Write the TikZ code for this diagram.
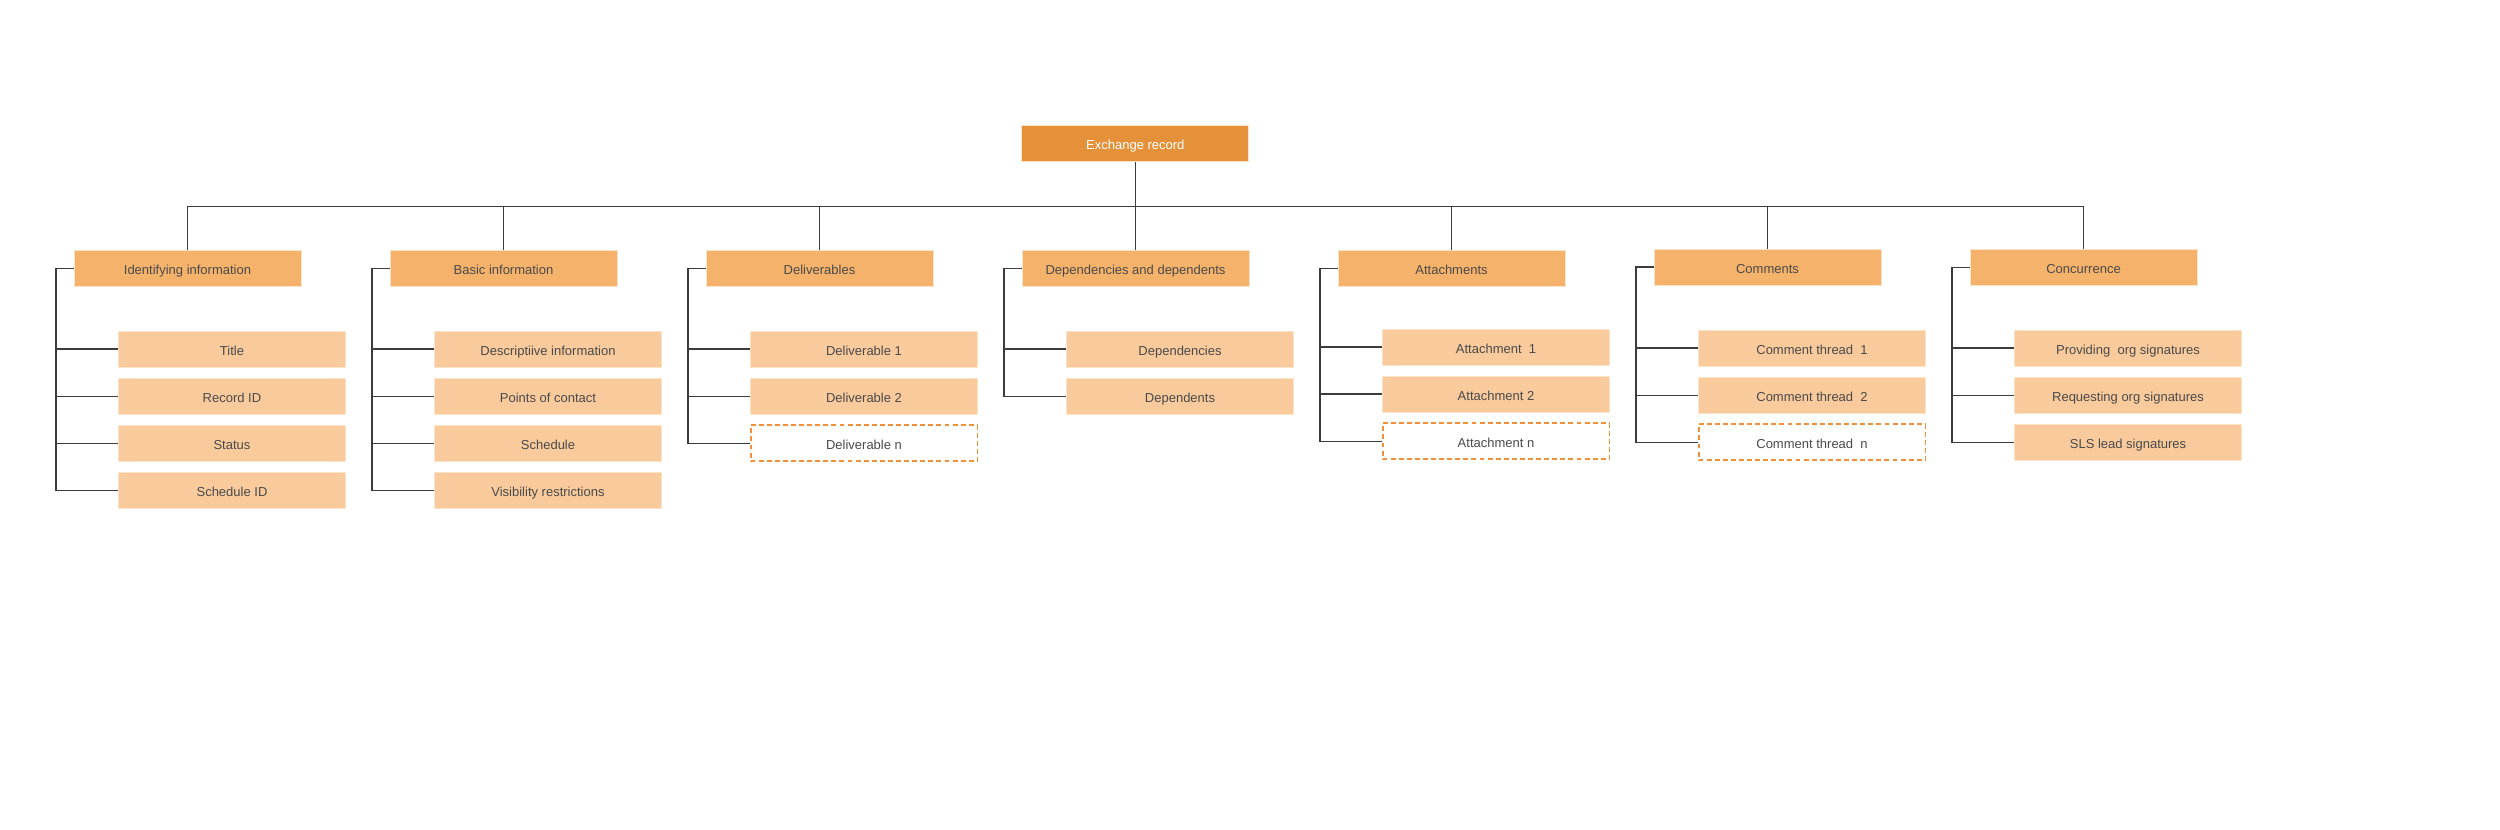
\documentclass[tikz,border=0pt]{standalone}
\usepackage{fontspec}
\setmainfont{Liberation Sans}
\usetikzlibrary{calc}
\definecolor{rootfill}{HTML}{E5913A}
\definecolor{headfill}{HTML}{F5B26B}
\definecolor{childfill}{HTML}{F8CA9C}
\definecolor{rimcol}{HTML}{FCE3C8}
\definecolor{dashcol}{HTML}{F0913A}
\definecolor{txtcol}{HTML}{4A4A4A}
\definecolor{linecol}{HTML}{3C3C3C}
\begin{document}
\begin{tikzpicture}[x=0.02cm,y=-0.02cm,
  box/.style={rectangle,inner sep=0pt,minimum width=4.54cm,minimum height=0.72cm,
    font=\fontsize{7.4pt}{8pt}\selectfont,text=txtcol,draw=rimcol,line width=0.5pt,
    text height=0.716em,text depth=0pt},
  rootbox/.style={box,fill=rootfill,text=white},
  headbox/.style={box,fill=headfill},
  childbox/.style={box,fill=childfill},
  openbox/.style={box,fill=white,draw=dashcol,line width=1.1pt,dash pattern=on 2.8pt off 1.8pt},
  conn/.style={draw=linecol,line width=0.7pt}]
\useasboundingbox (0,0) rectangle (2500,830);
\fill[white] (0,0) rectangle (2500,830);

% root
\node[rootbox] (root) at (1135.3,143.5) {Exchange record};

% heads
\node[headbox] (h1) at (187.5,268.7) {Identifying information};
\node[headbox] (h2) at (503.5,268.7) {Basic information};
\node[headbox] (h3) at (819.5,268.7) {Deliverables};
\node[headbox] (h4) at (1135.5,268.7) {Dependencies and dependents};
\node[headbox] (h5) at (1451.5,268.3) {Attachments};
\node[headbox] (h6) at (1767.5,267) {Comments};
\node[headbox] (h7) at (2083.5,267.3) {Concurrence};

% children group 1
\node[childbox] (c1a) at (232,349) {Title};
\node[childbox] (c1b) at (232,396.3) {Record ID};
\node[childbox] (c1c) at (232,443.3) {Status};
\node[childbox] (c1d) at (232,490.5) {Schedule ID};
% group 2
\node[childbox] (c2a) at (548,349) {Descriptiive information};
\node[childbox] (c2b) at (548,396.3) {Points of contact};
\node[childbox] (c2c) at (548,443.3) {Schedule};
\node[childbox] (c2d) at (548,490.5) {Visibility restrictions};
% group 3
\node[childbox] (c3a) at (864,349) {Deliverable 1};
\node[childbox] (c3b) at (864,396.3) {Deliverable 2};
\node[openbox] (c3c) at (864,443.3) {Deliverable n};
% group 4
\node[childbox] (c4a) at (1180,349) {Dependencies};
\node[childbox] (c4b) at (1180,396.3) {Dependents};
% group 5
\node[childbox] (c5a) at (1496,347) {Attachment\ \ 1};
\node[childbox] (c5b) at (1496,394) {Attachment 2};
\node[openbox] (c5c) at (1496,441.3) {Attachment n};
% group 6
\node[childbox] (c6a) at (1812,348) {Comment thread\ \ 1};
\node[childbox] (c6b) at (1812,395.3) {Comment thread\ \ 2};
\node[openbox] (c6c) at (1812,442.3) {Comment thread\ \ n};
% group 7
\node[childbox] (c7a) at (2128,348) {Providing\ \ org signatures};
\node[childbox] (c7b) at (2128,395.3) {Requesting org signatures};
\node[childbox] (c7c) at (2128,442.3) {SLS lead signatures};

% top distribution line
\coordinate (tl) at (187.5,206.3);
\draw[conn] (root.south) -- (root.south |- tl);
\draw[conn] (h1.north) -- (h1.north |- tl) -- (h7.north |- tl) -- (h7.north);
\foreach \h in {h2,h3,h4,h5,h6} \draw[conn] (\h.north) -- (\h.north |- tl);

% brackets
\foreach \h/\last/\kids in {h1/c1d/{c1a,c1b,c1c},h2/c2d/{c2a,c2b,c2c},h3/c3c/{c3a,c3b},
    h4/c4b/{c4a},h5/c5c/{c5a,c5b},h6/c6c/{c6a,c6b},h7/c7c/{c7a,c7b}}{
  \coordinate (b-\h) at ($(\h.west)+(-17.5,0)$);
  \draw[conn] (\h.west) -- (b-\h) |- (\last.west);
  \foreach \k in \kids \draw[conn] (b-\h |- \k.west) -- (\k.west);
}
\end{tikzpicture}
\end{document}
